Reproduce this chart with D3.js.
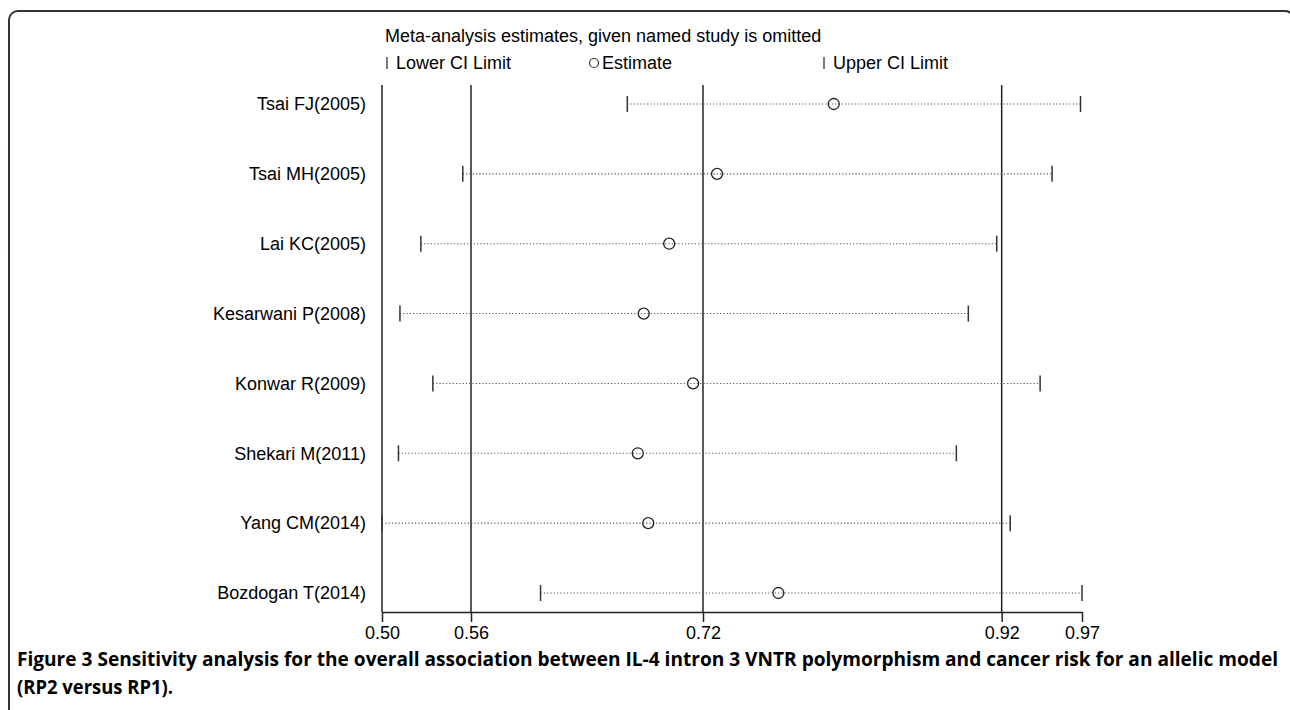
<!DOCTYPE html>
<html>
<head>
<meta charset="utf-8">
<script src="https://cdn.jsdelivr.net/npm/d3@7"></script>
<style>
  body { margin: 0; background: #fff; }
  svg { font-family: "Liberation Sans", Arial, sans-serif; }
</style>
</head>
<body>
<svg width="1290" height="710"></svg>
<script>
// study labels and estimates
const studies = ['Tsai FJ(2005)', 'Tsai MH(2005)', 'Lai KC(2005)', 'Kesarwani P(2008)',
                 'Konwar R(2009)', 'Shekari M(2011)', 'Yang CM(2014)', 'Bozdogan T(2014)'];
const lower    = [0.667, 0.557, 0.529, 0.515, 0.537, 0.514, 0.503, 0.609];
const estimate = [0.805, 0.727, 0.695, 0.678, 0.711, 0.674, 0.681, 0.768];
const upper    = [0.970, 0.951, 0.914, 0.895, 0.943, 0.887, 0.923, 0.971];

// overall lower / estimate / upper plus axis extremes
const tickVals = [0.503, 0.5625, 0.7176, 0.9173, 0.971];
const refLines = [0.503, 0.5625, 0.7176, 0.9173];

const svg = d3.select('svg');

// figure frame (right and bottom edges run off the page)
svg.append('rect')
    .attr('x', 9).attr('y', 11).attr('width', 1285).attr('height', 740)
    .attr('rx', 9).attr('ry', 9)
    .attr('fill', 'none').attr('stroke', '#333').attr('stroke-width', 2);

const x = d3.scaleLinear().domain([0.503, 0.971]).range([382, 1082]);
const y = d3.scalePoint().domain(studies).range([104, 593]);
const axisY = 612;

// solid vertical reference lines
svg.selectAll('.ref').data(refLines).enter().append('line')
    .attr('x1', d => x(d)).attr('x2', d => x(d))
    .attr('y1', 85).attr('y2', axisY)
    .attr('stroke', '#222').attr('stroke-width', 1.5);

// bottom axis
const axis = svg.append('g').attr('transform', `translate(0,${axisY})`)
    .call(d3.axisBottom(x).tickValues(tickVals).tickFormat(d3.format('.2f')).tickSize(10).tickSizeOuter(0));
axis.attr('font-family', null).attr('font-size', null);
axis.select('.domain').attr('stroke', '#222').attr('stroke-width', 1.5);
axis.selectAll('.tick line').attr('stroke', '#222').attr('stroke-width', 1.5);
axis.selectAll('.tick text').attr('font-size', 18).attr('fill', '#000').attr('dy', '0.8em');

// rows
const rows = svg.selectAll('.row').data(studies).enter().append('g');

rows.append('line')
    .attr('x1', (d, i) => x(lower[i])).attr('x2', (d, i) => x(upper[i]))
    .attr('y1', d => y(d)).attr('y2', d => y(d))
    .attr('stroke', '#555').attr('stroke-width', 1.1).attr('stroke-dasharray', '1.2,2.1');

rows.append('line')
    .attr('x1', (d, i) => x(lower[i])).attr('x2', (d, i) => x(lower[i]))
    .attr('y1', d => y(d) - 8).attr('y2', d => y(d) + 8)
    .attr('stroke', '#333').attr('stroke-width', 1.5);

rows.append('line')
    .attr('x1', (d, i) => x(upper[i])).attr('x2', (d, i) => x(upper[i]))
    .attr('y1', d => y(d) - 8).attr('y2', d => y(d) + 8)
    .attr('stroke', '#333').attr('stroke-width', 1.5);

rows.append('circle')
    .attr('cx', (d, i) => x(estimate[i])).attr('cy', d => y(d)).attr('r', 5.5)
    .attr('fill', 'none').attr('stroke', '#222').attr('stroke-width', 1.3);

rows.append('text')
    .attr('x', 366).attr('y', d => y(d)).attr('dy', '0.35em')
    .attr('text-anchor', 'end').attr('font-size', 18)
    .text(d => d);

// legend
svg.append('text').attr('x', 385).attr('y', 42).attr('font-size', 18)
    .text('Meta-analysis estimates, given named study is omitted');

const leg = svg.append('g');
leg.append('line').attr('x1', 387).attr('x2', 387).attr('y1', 57).attr('y2', 69)
    .attr('stroke', '#333').attr('stroke-width', 1.3);
leg.append('text').attr('x', 396).attr('y', 69).attr('font-size', 18).text('Lower CI Limit');
leg.append('circle').attr('cx', 594).attr('cy', 63).attr('r', 4.5)
    .attr('fill', 'none').attr('stroke', '#333').attr('stroke-width', 1.2);
leg.append('text').attr('x', 602).attr('y', 69).attr('font-size', 18).text('Estimate');
leg.append('line').attr('x1', 824).attr('x2', 824).attr('y1', 57).attr('y2', 69)
    .attr('stroke', '#333').attr('stroke-width', 1.3);
leg.append('text').attr('x', 833).attr('y', 69).attr('font-size', 18).text('Upper CI Limit');

// caption
const cap = svg.append('g')
    .style('font-family', '"Open Sans", sans-serif')
    .style('font-weight', 'bold').style('font-size', '19px');
cap.append('text').attr('x', 17).attr('y', 666)
    .attr('textLength', 1261).attr('lengthAdjust', 'spacingAndGlyphs')
    .text('Figure 3 Sensitivity analysis for the overall association between IL-4 intron 3 VNTR polymorphism and cancer risk for an allelic model');
cap.append('text').attr('x', 17).attr('y', 694)
    .attr('textLength', 156).attr('lengthAdjust', 'spacingAndGlyphs')
    .text('(RP2 versus RP1).');
</script>
</body>
</html>
